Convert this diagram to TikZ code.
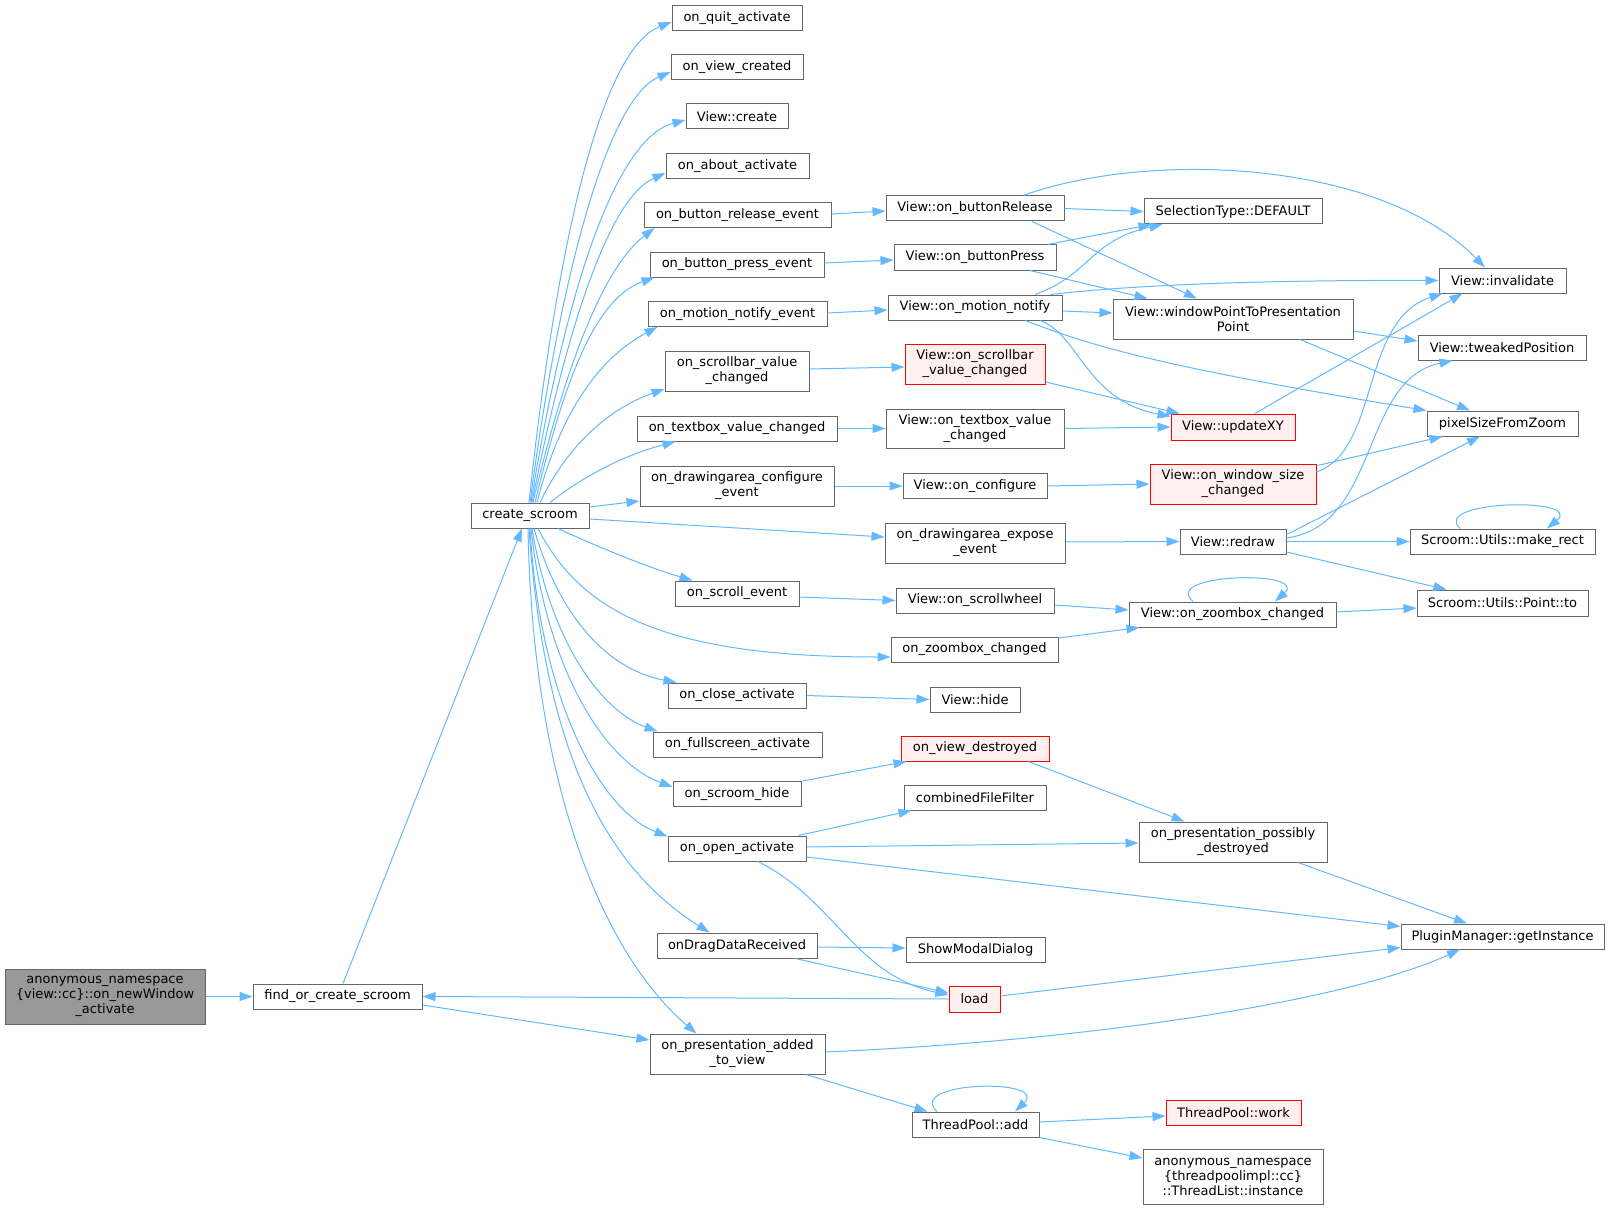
\documentclass[tikz,border=0pt]{standalone}
\usepackage{fontspec}
\setmainfont{DejaVu Sans}
\usetikzlibrary{arrows.meta}
\definecolor{edgeblue}{HTML}{63B8FF}
\definecolor{nodegray}{HTML}{666666}
\definecolor{rootfill}{HTML}{999999}
\definecolor{redfill}{HTML}{FFF0F0}
\tikzset{
  fn/.style={draw=nodegray, fill=white, line width=1pt, inner sep=0pt, align=center,
    font=\fontsize{13}{15}\selectfont, text=black},
  fnred/.style={fn, draw=red, fill=redfill},
  fnroot/.style={fn, fill=rootfill},
  call/.style={draw=edgeblue, line width=1pt, -{Triangle[length=13pt,width=9pt]}},
}
\begin{document}
\begin{tikzpicture}[x=1pt,y=-1pt]
\useasboundingbox (0,0) rectangle (1609,1209);
% column 0-1
\node[fnroot, minimum width=200pt, minimum height=55pt] (anon) at (105,996.5) {anonymous\_namespace\\\{view::cc\}::on\_newWindow\\\_activate};
\node[fn, minimum width=169pt, minimum height=25pt] (find) at (337.5,996.5) {find\_or\_create\_scroom};
\node[fn, minimum width=118pt, minimum height=25pt] (create) at (530,515.5) {create\_scroom};
% column 3
\node[fn, minimum width=130pt, minimum height=25pt] (quit) at (737,18) {on\_quit\_activate};
\node[fn, minimum width=132pt, minimum height=25pt] (viewcreated) at (737,67) {on\_view\_created};
\node[fn, minimum width=102pt, minimum height=25pt] (viewcreate) at (737,116.5) {View::create};
\node[fn, minimum width=143pt, minimum height=25pt] (about) at (737.5,166) {on\_about\_activate};
\node[fn, minimum width=187pt, minimum height=25pt] (brelease) at (737.5,215) {on\_button\_release\_event};
\node[fn, minimum width=174pt, minimum height=25pt] (bpress) at (737,264.5) {on\_button\_press\_event};
\node[fn, minimum width=179pt, minimum height=25pt] (motion) at (737.5,314) {on\_motion\_notify\_event};
\node[fn, minimum width=144pt, minimum height=40pt] (scrollbar) at (737,371) {on\_scrollbar\_value\\\_changed};
\node[fn, minimum width=200pt, minimum height=25pt] (textbox) at (737,428.5) {on\_textbox\_value\_changed};
\node[fn, minimum width=194pt, minimum height=40pt] (configure) at (737,486) {on\_drawingarea\_configure\\\_event};
\node[fn, minimum width=124pt, minimum height=25pt] (scroll) at (737,593.5) {on\_scroll\_event};
\node[fn, minimum width=138pt, minimum height=25pt] (close) at (737,695.5) {on\_close\_activate};
\node[fn, minimum width=169pt, minimum height=25pt] (fullscreen) at (737.5,744.5) {on\_fullscreen\_activate};
\node[fn, minimum width=128pt, minimum height=25pt] (scroomhide) at (737,794) {on\_scroom\_hide};
\node[fn, minimum width=138pt, minimum height=25pt] (open) at (737,848.5) {on\_open\_activate};
\node[fn, minimum width=160pt, minimum height=25pt] (drag) at (737,945.5) {onDragDataReceived};
\node[fn, minimum width=175pt, minimum height=40pt] (presadded) at (737.5,1054) {on\_presentation\_added\\\_to\_view};
% column 4
\node[fn, minimum width=178pt, minimum height=25pt] (vbrelease) at (975,208.5) {View::on\_buttonRelease};
\node[fn, minimum width=162pt, minimum height=25pt] (vbpress) at (975,257.5) {View::on\_buttonPress};
\node[fn, minimum width=174pt, minimum height=25pt] (vmotion) at (975,307.5) {View::on\_motion\_notify};
\node[fnred, minimum width=140pt, minimum height=40pt] (vscrollbar) at (975,364) {View::on\_scrollbar\\\_value\_changed};
\node[fn, minimum width=178pt, minimum height=39pt] (vtextbox) at (975,428.5) {View::on\_textbox\_value\\\_changed};
\node[fn, minimum width=144pt, minimum height=25pt] (vconfigure) at (975,486) {View::on\_configure};
\node[fn, minimum width=180pt, minimum height=40pt] (expose) at (975,543) {on\_drawingarea\_expose\\\_event};
\node[fn, minimum width=158pt, minimum height=25pt] (vscrollwheel) at (975,600.5) {View::on\_scrollwheel};
\node[fn, minimum width=167pt, minimum height=25pt] (zoombox) at (974.5,649.5) {on\_zoombox\_changed};
\node[fn, minimum width=90pt, minimum height=25pt] (vhide) at (975,699.5) {View::hide};
\node[fnred, minimum width=148pt, minimum height=25pt] (viewdestroyed) at (975,748.5) {on\_view\_destroyed};
\node[fn, minimum width=142pt, minimum height=25pt] (combined) at (975,797.5) {combinedFileFilter};
\node[fn, minimum width=139pt, minimum height=25pt] (showmodal) at (975.5,949.5) {ShowModalDialog};
\node[fnred, minimum width=51pt, minimum height=26pt] (load) at (974.5,999) {load};
\node[fn, minimum width=127pt, minimum height=25pt] (tpadd) at (975.5,1124.5) {ThreadPool::add};
% column 5
\node[fn, minimum width=178pt, minimum height=25pt] (seltype) at (1233,211.5) {SelectionType::DEFAULT};
\node[fn, minimum width=240pt, minimum height=40pt] (wpoint) at (1233,319) {View::windowPointToPresentation\\Point};
\node[fnred, minimum width=124pt, minimum height=26pt] (updatexy) at (1233,427) {View::updateXY};
\node[fnred, minimum width=166pt, minimum height=40pt] (winsize) at (1233,484) {View::on\_window\_size\\\_changed};
\node[fn, minimum width=106pt, minimum height=25pt] (redraw) at (1233,541.5) {View::redraw};
\node[fn, minimum width=207pt, minimum height=25pt] (vzoombox) at (1232.5,614.5) {View::on\_zoombox\_changed};
\node[fn, minimum width=188pt, minimum height=40pt] (possdestroyed) at (1233,842) {on\_presentation\_possibly\\\_destroyed};
\node[fnred, minimum width=135pt, minimum height=25pt] (tpwork) at (1233.5,1112.5) {ThreadPool::work};
\node[fn, minimum width=180pt, minimum height=55pt] (threadlist) at (1233,1176.5) {anonymous\_namespace\\\{threadpoolimpl::cc\}\\::ThreadList::instance};
% column 6
\node[fn, minimum width=127pt, minimum height=25pt] (invalidate) at (1502.5,280.5) {View::invalidate};
\node[fn, minimum width=168pt, minimum height=25pt] (tweaked) at (1502,347.5) {View::tweakedPosition};
\node[fn, minimum width=151pt, minimum height=25pt] (pixelsize) at (1502.5,423.5) {pixelSizeFromZoom};
\node[fn, minimum width=185pt, minimum height=25pt] (makerect) at (1502.5,541.5) {Scroom::Utils::make\_rect};
\node[fn, minimum width=171pt, minimum height=26pt] (pointto) at (1502.5,603) {Scroom::Utils::Point::to};
\node[fn, minimum width=203pt, minimum height=25pt] (pluginmgr) at (1502.5,936.5) {PluginManager::getInstance};

% ---------- edges ----------
\draw[call] (anon.east) -- (find.west);
\draw[call] ([shift={(5.5,0)}]find.north) -- ([shift={(-8,0)}]create.south);
\draw[call] ([shift={(0,8.5)}]find.east) -- ([shift={(0,-14)}]presadded.west);
\draw[call] (load.west) -- (find.east);
% top fan
\draw[call] ([shift={(-1,0)}]create.north) .. controls (556,250) and (600,50) .. ([shift={(0,4)}]quit.west);
\draw[call] (create.north) .. controls (558,290) and (605,100) .. ([shift={(0,5)}]viewcreated.west);
\draw[call] ([shift={(1,0)}]create.north) .. controls (560,320) and (610,140) .. ([shift={(0,3.5)}]viewcreate.west);
\draw[call] ([shift={(2,0)}]create.north) .. controls (562,350) and (605,200) .. ([shift={(0,7)}]about.west);
\draw[call] ([shift={(3,0)}]create.north) .. controls (562,380) and (600,270) .. ([shift={(11,0)}]brelease.south west);
\draw[call] ([shift={(5,0)}]create.north) .. controls (560,400) and (590,300) .. ([shift={(5,0)}]bpress.south west);
\draw[call] ([shift={(7,0)}]create.north) .. controls (558,420) and (595,360) .. ([shift={(10,0)}]motion.south west);
\draw[call] ([shift={(10,0)}]create.north) .. controls (565,450) and (605,410) .. ([shift={(0,18)}]scrollbar.west);
\draw[call] ([shift={(20,0)}]create.north) .. controls (585,475) and (625,455) .. ([shift={(39,0)}]textbox.south west);
\draw[call] ([shift={(0,-8.5)}]create.east) -- ([shift={(0,15)}]configure.west);
\draw[call] ([shift={(0,3.5)}]create.east) -- ([shift={(0,-6)}]expose.west);
% bottom fan
\draw[call] ([shift={(28,0)}]create.south) .. controls (600,548) and (650,568) .. ([shift={(18,0)}]scroll.north west);
\draw[call] ([shift={(8,0)}]create.south) .. controls (580,610) and (660,657) .. ([shift={(0,7.5)}]zoombox.west);
\draw[call] ([shift={(4,0)}]create.south) .. controls (560,620) and (610,670) .. ([shift={(9,0)}]close.north west);
\draw[call] ([shift={(2,0)}]create.south) .. controls (550,640) and (600,710) .. ([shift={(5,0)}]fullscreen.north west);
\draw[call] ([shift={(1,0)}]create.south) .. controls (545,660) and (600,760) .. ([shift={(0,-7)}]scroomhide.west);
\draw[call] (create.south) .. controls (540,700) and (600,810) .. ([shift={(0,1)}]open.north west);
\draw[call] ([shift={(-1,0)}]create.south) .. controls (545,760) and (610,870) .. ([shift={(53,0)}]drag.north west);
\draw[call] ([shift={(-2,0)}]create.south) .. controls (533,800) and (610,960) .. ([shift={(47,0)}]presadded.north west);
% second level
\draw[call] ([shift={(0,-1)}]brelease.east) -- ([shift={(0,2.5)}]vbrelease.west);
\draw[call] ([shift={(0,-1.5)}]bpress.east) -- ([shift={(0,2.5)}]vbpress.west);
\draw[call] ([shift={(0,-1)}]motion.east) -- ([shift={(0,2.5)}]vmotion.west);
\draw[call] ([shift={(0,-2)}]scrollbar.east) -- ([shift={(0,3)}]vscrollbar.west);
\draw[call] (textbox.east) -- (vtextbox.west);
\draw[call] (configure.east) -- (vconfigure.west);
\draw[call] ([shift={(0,-1)}]expose.east) -- (redraw.west);
\draw[call] ([shift={(0,3.5)}]scroll.east) -- (vscrollwheel.west);
\draw[call] ([shift={(0,4.5)}]vscrollwheel.east) -- ([shift={(0,-4.5)}]vzoombox.west);
\draw[call] ([shift={(0,-11.5)}]zoombox.east) -- ([shift={(11,0)}]vzoombox.south west);
\draw[call] (close.east) -- (vhide.west);
\draw[call] ([shift={(1,0)}]scroomhide.north east) -- ([shift={(6,0)}]viewdestroyed.south west);
\draw[call] ([shift={(-21,0)}]viewdestroyed.south east) -- ([shift={(46,0)}]possdestroyed.north west);
\draw[call] ([shift={(-8,0)}]open.north east) -- ([shift={(8,0)}]combined.south west);
\draw[call] ([shift={(0,-1.5)}]open.east) -- ([shift={(0,1)}]possdestroyed.west);
\draw[call] ([shift={(0,8.5)}]open.east) -- ([shift={(0,-10)}]pluginmgr.west);
\draw[call] ([shift={(21,0)}]open.south) .. controls (835,900) and (855,975) .. ([shift={(0,-4)}]load.west);
\draw[call] ([shift={(0,1.5)}]drag.east) -- ([shift={(0,-1.5)}]showmodal.west);
\draw[call] ([shift={(-22,0)}]drag.south east) -- ([shift={(0,-6)}]load.west);
\draw[call] ([shift={(0,-3)}]load.east) -- ([shift={(0,11)}]pluginmgr.west);
\draw[call] ([shift={(65,0)}]possdestroyed.south) -- ([shift={(-35.5,0)}]pluginmgr.north);
\draw[call] ([shift={(0,-2)}]presadded.east) .. controls (1100,1040) and (1350,1000) .. ([shift={(-42.5,0)}]pluginmgr.south);
\draw[call] ([shift={(68.5,0)}]presadded.south) -- ([shift={(16,0)}]tpadd.north west);
\draw[call] ([shift={(-38.5,0)}]tpadd.north) .. controls (905,1081) and (1050,1078) .. ([shift={(39.5,0)}]tpadd.north);
\draw[call] ([shift={(0,-2.5)}]tpadd.east) -- ([shift={(0,3.5)}]tpwork.west);
\draw[call] (tpadd.south east) -- ([shift={(0,-18.5)}]threadlist.west);
% third level
\draw[call] (vbrelease.east) -- (seltype.west);
\draw[call] ([shift={(57,0)}]vbrelease.south) -- ([shift={(-36,0)}]wpoint.north);
\draw[call] ([shift={(48,0)}]vbrelease.north) .. controls (1150,150) and (1380,160) .. ([shift={(-17.5,0)}]invalidate.north);
\draw[call] ([shift={(-9,0)}]vbpress.north east) -- ([shift={(8,0)}]seltype.south west);
\draw[call] ([shift={(60,0)}]vmotion.north) .. controls (1090,275) and (1090,240) .. ([shift={(19,0)}]seltype.south west);
\draw[call] ([shift={(55,0)}]vbpress.south) -- ([shift={(35,0)}]wpoint.north west);
\draw[call] ([shift={(0,3.5)}]vmotion.east) -- ([shift={(0,-6)}]wpoint.west);
\draw[call] ([shift={(-12,0)}]vmotion.north east) .. controls (1150,283) and (1300,280) .. (invalidate.west);
\draw[call] ([shift={(65,0)}]vmotion.south) .. controls (1080,335) and (1085,400) .. ([shift={(0,3)}]updatexy.north west);
\draw[call] ([shift={(50,0)}]vmotion.south) .. controls (1090,345) and (1150,365) .. (pixelsize.north west);
\draw[call] ([shift={(0,18)}]vscrollbar.east) -- ([shift={(9,0)}]updatexy.north west);
\draw[call] (vtextbox.east) -- (updatexy.west);
\draw[call] (vconfigure.east) -- (winsize.west);
\draw[call] ([shift={(22,0)}]updatexy.north) -- ([shift={(24,0)}]invalidate.south west);
\draw[call] ([shift={(0,-12)}]winsize.east) .. controls (1380,450) and (1360,320) .. ([shift={(4,0)}]invalidate.south west);
\draw[call] ([shift={(1,2)}]winsize.north east) -- ([shift={(16,0)}]pixelsize.south west);
\draw[call] ([shift={(0,12)}]wpoint.east) -- ([shift={(0,-6.5)}]tweaked.west);
\draw[call] ([shift={(67,0)}]wpoint.south) -- ([shift={(-32.5,0)}]pixelsize.north);
\draw[call] ([shift={(0,-3.5)}]redraw.east) .. controls (1380,525) and (1360,380) .. ([shift={(35,0)}]tweaked.south west);
\draw[call] ([shift={(0,6)}]redraw.north east) -- ([shift={(-22.5,0)}]pixelsize.south);
\draw[call] (redraw.east) -- (makerect.west);
\draw[call] ([shift={(0,10.5)}]redraw.east) -- ([shift={(30,0)}]pointto.north west);
\draw[call] ([shift={(-42.5,0)}]makerect.north) .. controls (1430,500) and (1585,497) .. ([shift={(44.5,0)}]makerect.north);
\draw[call] ([shift={(-39.5,0)}]vzoombox.north) .. controls (1160,573) and (1310,570) .. ([shift={(42.5,0)}]vzoombox.north);
\draw[call] ([shift={(0,-2.5)}]vzoombox.east) -- ([shift={(0,5)}]pointto.west);
\end{tikzpicture}
\end{document}
